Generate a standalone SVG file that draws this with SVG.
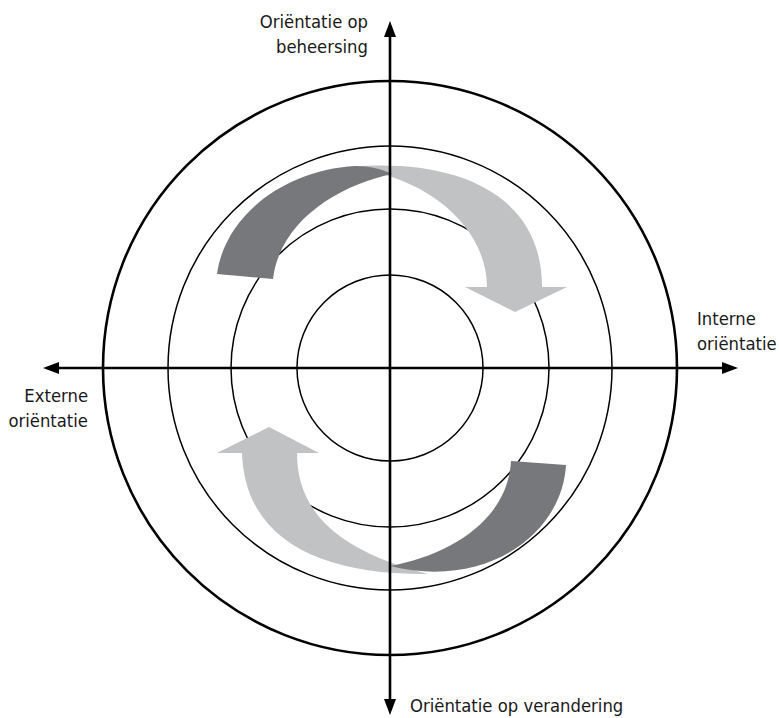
<svg xmlns="http://www.w3.org/2000/svg" width="779" height="718" viewBox="0 0 779 718">
  <style>
    .ring { fill: none; stroke: #000; stroke-width: 1.5; }
    .ring-outer { fill: none; stroke: #000; stroke-width: 2.6; }
    .axis { stroke: #000; stroke-width: 2.6; fill: none; }
    .dark { fill: #77787b; }
    .light { fill: #c1c2c4; }
    .label { font-family: "DejaVu Sans Condensed", "Open Sans", sans-serif; font-size: 18.3px; fill: #1a1a1a; }
  </style>
  <defs>
    <marker id="head" markerUnits="userSpaceOnUse" markerWidth="16" markerHeight="12" refX="6" refY="6" orient="auto-start-reverse">
      <path d="M0,0 L16,6 L0,12 Z" fill="#000"/>
    </marker>
  </defs>

  <rect width="779" height="718" fill="#fff"/>

  <!-- concentric rings -->
  <g id="rings">
    <circle class="ring-outer" cx="390" cy="368" r="287"/>
    <circle class="ring" cx="390" cy="368" r="222"/>
    <circle class="ring" cx="390" cy="368" r="159"/>
    <circle class="ring" cx="390" cy="368" r="93"/>
  </g>

  <!-- upper cycle: light band ending in a downward arrow, dark tail on the left -->
  <g id="upper-cycle">
    <path class="light" d="M350,167 C450,158 542,190 542,287 L567,287 L515,312 L465,287 L487,287 C487,235 440,180 350,167 Z"/>
    <path class="dark" d="M217,274 C225,215 285,170 355,166 C370,166 382,169 392,174 C340,185 280,220 273,279 Z"/>
  </g>

  <!-- lower cycle: light band ending in an upward arrow, dark tail on the right -->
  <g id="lower-cycle">
    <path class="light" d="M242,453 L217,453 L269,427 L319,453 L297,453 C297,510 335,550 428,574 C320,575 245,540 242,453 Z"/>
    <path class="dark" d="M390,566 C450,555 508,520 511,461 L566,465 C562,535 485,590 390,566 Z"/>
  </g>

  <!-- axes -->
  <g id="connectors">
    <line class="axis" x1="390" y1="705" x2="390" y2="31" marker-start="url(#head)" marker-end="url(#head)"/>
    <line class="axis" x1="53" y1="368" x2="728" y2="368" marker-start="url(#head)" marker-end="url(#head)"/>
  </g>

  <g id="label-top">
    <text class="label" x="368" y="28" text-anchor="end">Oriëntatie op</text>
    <text class="label" x="368" y="53" text-anchor="end">beheersing</text>
  </g>
  <g id="label-left">
    <text class="label" x="88" y="402" text-anchor="end">Externe</text>
    <text class="label" x="88" y="427" text-anchor="end">oriëntatie</text>
  </g>
  <g id="label-right">
    <text class="label" x="697" y="325">Interne</text>
    <text class="label" x="697" y="350">oriëntatie</text>
  </g>
  <g id="label-bottom">
    <text class="label" x="410" y="712">Oriëntatie op verandering</text>
  </g>
</svg>
